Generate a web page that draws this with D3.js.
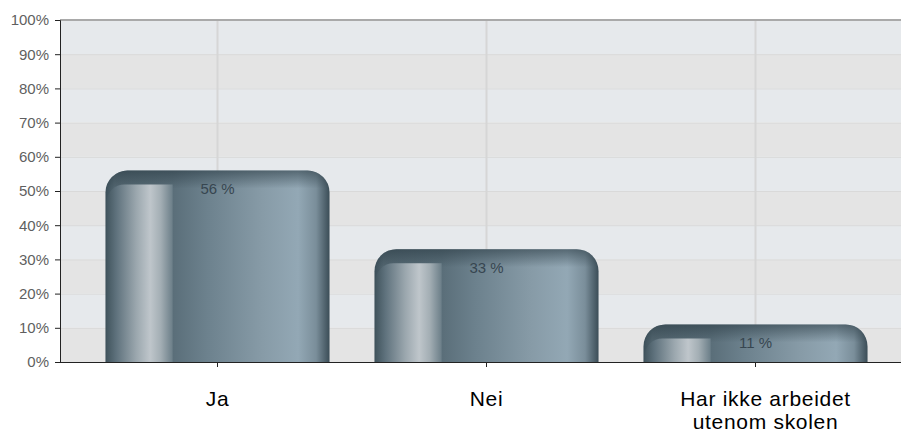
<!DOCTYPE html>
<html>
<head>
<meta charset="utf-8">
<script src="https://cdn.jsdelivr.net/npm/d3@7"></script>
<style>
  html, body { margin: 0; padding: 0; background: #fff; }
  svg { display: block; }
</style>
</head>
<body>
<svg id="chart" width="901" height="435"></svg>
<script>
const categories = ["Ja", "Nei", "Har ikke arbeidet\nutenom skolen"];
const values = [56, 33, 11];
const valueLabels = ["56 %", "33 %", "11 %"];
const yTicks = [0, 10, 20, 30, 40, 50, 60, 70, 80, 90, 100];
const yTickLabels = ["0%", "10%", "20%", "30%", "40%", "50%", "60%", "70%", "80%", "90%", "100%"];

const W = 901, H = 435;
const plot = { left: 60, right: 901, top: 20, bottom: 362 };

const svg = d3.select("#chart");
const defs = svg.append("defs");

const y = d3.scaleLinear().domain([0, 100]).range([plot.bottom, plot.top]);
const x = d3.scaleBand().domain(d3.range(categories.length)).range([83, 890]).paddingInner(0.167).paddingOuter(0.0835);

// background bands
for (let i = 0; i < yTicks.length - 1; i++) {
  svg.append("rect")
    .attr("x", plot.left).attr("width", plot.right - plot.left)
    .attr("y", y(yTicks[i + 1])).attr("height", y(yTicks[i]) - y(yTicks[i + 1]))
    .attr("fill", i % 2 === 1 ? "#e6e9ec" : "#e4e4e4");
}
// horizontal grid
svg.append("g").selectAll("line").data(yTicks.slice(1, -1)).join("line")
  .attr("x1", plot.left).attr("x2", plot.right)
  .attr("y1", d => y(d) + 0.5).attr("y2", d => y(d) + 0.5)
  .attr("stroke", "#d9d9d9").attr("stroke-width", 1);
// vertical grid
svg.append("g").selectAll("line").data(d3.range(categories.length)).join("line")
  .attr("x1", d => x(d) + x.bandwidth() / 2).attr("x2", d => x(d) + x.bandwidth() / 2)
  .attr("y1", plot.top).attr("y2", plot.bottom)
  .attr("stroke", "#d6d6d6").attr("stroke-width", 2);
// top border
svg.append("line").attr("x1", plot.left).attr("x2", plot.right)
  .attr("y1", plot.top).attr("y2", plot.top)
  .attr("stroke", "#a9a9a9").attr("stroke-width", 2);

// gradients
function hGrad(id, stops) {
  const g = defs.append("linearGradient").attr("id", id).attr("x1", 0).attr("x2", 1).attr("y1", 0).attr("y2", 0);
  stops.forEach(s => g.append("stop").attr("offset", s[0]).attr("stop-color", s[1]));
}
hGrad("mainGrad", [[0, "#3c4f59"], [0.04, "#52656f"], [0.3, "#5a6e79"], [0.45, "#6c818d"], [0.7, "#879ba7"], [0.86, "#93a8b5"], [0.94, "#7a8e9a"], [1, "#3b4d57"]]);
hGrad("colGrad", [[0, "#42555e"], [0.15, "#5f727d"], [0.45, "#9ba7ae"], [0.66, "#bfc6cb"], [0.82, "#a3aeb4"], [1, "#6b7e88"]]);

function topRounded(x0, x1, y0, y1, r) {
  const p = d3.path();
  r = Math.min(r, (x1 - x0) / 2, y1 - y0);
  p.moveTo(x0, y1);
  p.lineTo(x0, y0 + r);
  p.arcTo(x0, y0, x0 + r, y0, r);
  p.lineTo(x1 - r, y0);
  p.arcTo(x1, y0, x1, y0 + r, r);
  p.lineTo(x1, y1);
  p.closePath();
  return p.toString();
}
function leftRounded(x0, x1, y0, y1, r) {
  const p = d3.path();
  r = Math.min(r, x1 - x0, y1 - y0);
  p.moveTo(x0, y1);
  p.lineTo(x0, y0 + r);
  p.arcTo(x0, y0, x0 + r, y0, r);
  p.lineTo(x1, y0);
  p.lineTo(x1, y1);
  p.closePath();
  return p.toString();
}

const bars = svg.append("g");
values.forEach((v, i) => {
  const x0 = x(i), x1 = x(i) + x.bandwidth();
  const y0 = y(v), y1 = y(0);
  const bw = x1 - x0;
  bars.append("path").attr("d", topRounded(x0, x1, y0, y1, 22)).attr("fill", "url(#mainGrad)");
  const vg = defs.append("linearGradient").attr("id", "topGrad" + i)
    .attr("gradientUnits", "userSpaceOnUse").attr("x1", 0).attr("x2", 0).attr("y1", y0).attr("y2", y0 + 18);
  vg.append("stop").attr("offset", 0).attr("stop-color", "#2c3d46").attr("stop-opacity", 0.6);
  vg.append("stop").attr("offset", 1).attr("stop-color", "#2c3d46").attr("stop-opacity", 0);
  bars.append("path").attr("d", topRounded(x0, x1, y0, y1, 22)).attr("fill", "url(#topGrad" + i + ")");
  bars.append("path").attr("d", leftRounded(x0 + 1, x0 + bw * 0.3, y0 + 14, y1, 18)).attr("fill", "url(#colGrad)");
  bars.append("text")
    .attr("x", (x0 + x1) / 2).attr("y", y0 + 24)
    .attr("text-anchor", "middle")
    .attr("font-family", "Liberation Sans, Arial, sans-serif")
    .attr("font-size", 15)
    .attr("fill", "#374650")
    .text(valueLabels[i]);
});

// y axis
const yAxis = d3.axisLeft(y).tickValues(yTicks).tickFormat((d, i) => yTickLabels[i]).tickSize(5).tickPadding(6);
const ya = svg.append("g").attr("transform", `translate(${plot.left},0)`).call(yAxis);
ya.select(".domain").attr("stroke", "#222");
ya.selectAll(".tick line").attr("stroke", "#222");
ya.selectAll(".tick text").attr("font-family", "Liberation Sans, Arial, sans-serif").attr("font-size", 15).attr("fill", "#5f5f5f");

// x axis
const xAxis = d3.axisBottom(x).tickSize(5).tickFormat(() => "");
const xa = svg.append("g").attr("transform", `translate(0,${plot.bottom})`).call(xAxis);
xa.select(".domain").remove();
xa.selectAll(".tick line").attr("stroke", "#222");
svg.append("line").attr("x1", plot.left).attr("x2", plot.right)
  .attr("y1", plot.bottom + 0.5).attr("y2", plot.bottom + 0.5).attr("stroke", "#222");

// category labels
categories.forEach((c, i) => {
  const lines = c.split("\n");
  const cx = x(i) + x.bandwidth() / 2 + (lines.length > 1 ? 10 : 0);
  const t = svg.append("text")
    .attr("x", cx).attr("y", 406)
    .attr("text-anchor", "middle")
    .attr("font-family", "Liberation Sans, Arial, sans-serif")
    .attr("font-size", 21).attr("letter-spacing", 0.7).attr("fill", "#000");
  lines.forEach((line, j) => {
    t.append("tspan").attr("x", cx).attr("dy", j === 0 ? 0 : 23).text(line);
  });
});
</script>
</body>
</html>
